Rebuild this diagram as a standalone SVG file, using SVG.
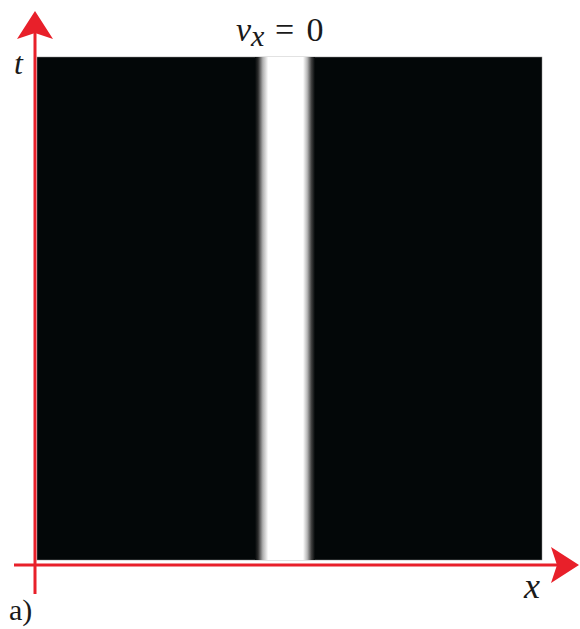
<svg xmlns="http://www.w3.org/2000/svg" width="580" height="629" viewBox="0 0 580 629">
<defs>
<linearGradient id="band" gradientUnits="userSpaceOnUse" x1="255" y1="0" x2="315" y2="0">
<stop offset="0" stop-color="#030708"/>
<stop offset="0.05" stop-color="#2a2a2a"/>
<stop offset="0.13" stop-color="#b0b0b0"/>
<stop offset="0.22" stop-color="#ffffff"/>
<stop offset="0.8" stop-color="#ffffff"/>
<stop offset="0.87" stop-color="#b8b8b8"/>
<stop offset="0.94" stop-color="#404040"/>
<stop offset="1" stop-color="#030708"/>
</linearGradient>
<style>
.ax{stroke:#e8202a;stroke-width:3;fill:none}
.ah{fill:#e8202a}
.lbl{fill:#1a1a1a;font-family:"Liberation Serif","DejaVu Serif",serif}
</style>
</defs>
<g id="field">
<rect x="37" y="57" width="505" height="503" fill="#030708" stroke="#8a8a8a" stroke-width="0.5"/>
<rect x="255" y="57" width="60" height="503" fill="url(#band)"/>
</g>
<g id="axes">
<line class="ax" x1="35" y1="594" x2="35" y2="30"/>
<path class="ah" d="M35,11 L53,39 L35,33 L17,39 Z"/>
<line class="ax" x1="14" y1="565" x2="560" y2="565"/>
<path class="ah" d="M579,565 L551,583 L557,565 L551,547 Z"/>
</g>
<g id="labels">
<text class="lbl" x="14" y="74" font-size="32" font-style="italic">t</text>
<text class="lbl" x="236" y="41" font-size="34"><tspan font-style="italic">v</tspan><tspan font-style="italic" font-size="30" dy="5">x</tspan><tspan dy="-5" letter-spacing="2"> = 0</tspan></text>
<text class="lbl" x="524" y="598" font-size="36" font-style="italic">x</text>
<text class="lbl" x="9" y="620" font-size="30">a)</text>
</g>
</svg>
